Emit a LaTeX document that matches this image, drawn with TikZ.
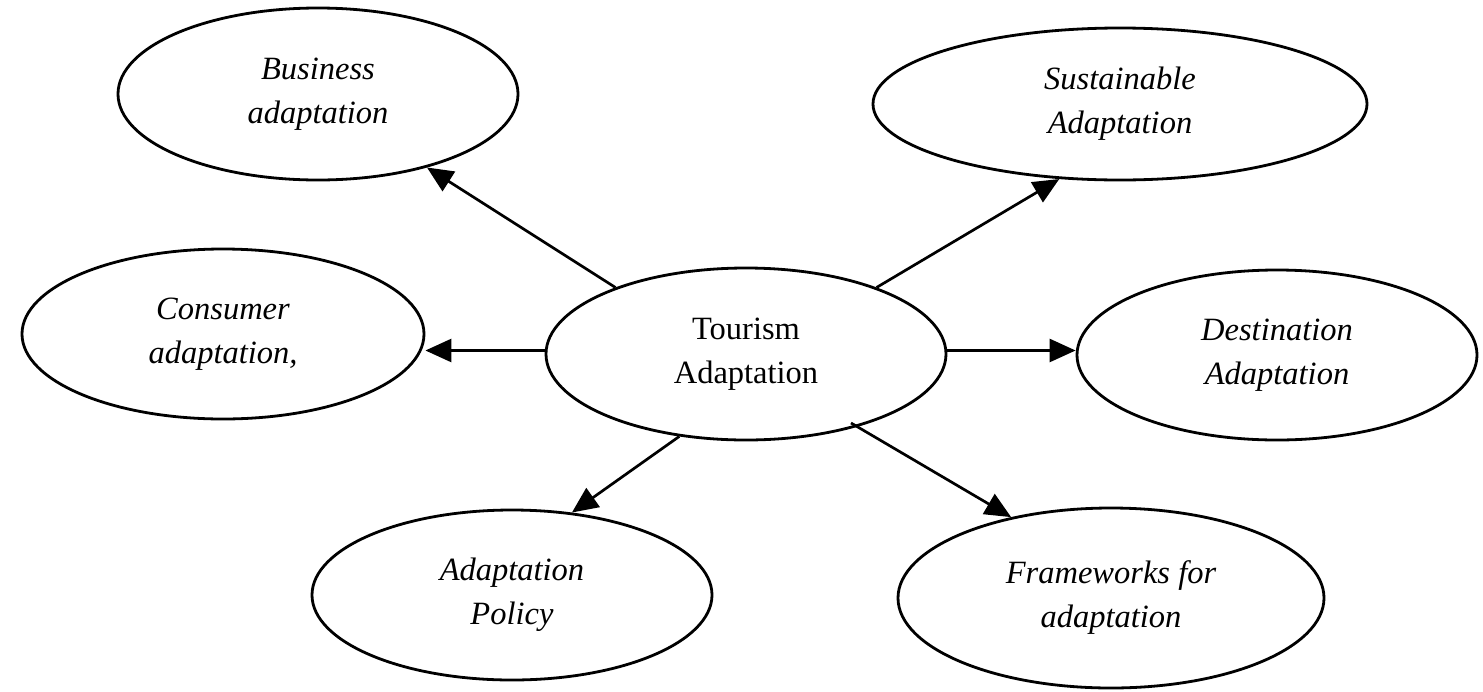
\documentclass[tikz,border=0pt]{standalone}
\usepackage{fontspec}
\setmainfont{Liberation Serif}
\usetikzlibrary{arrows.meta,shapes.geometric,calc}
\tikzset{
  bubble/.style={ellipse, draw=black, line width=2.8pt, inner sep=0pt, align=center,
    font=\fontsize{32.5pt}{44pt}\selectfont},
  ibubble/.style={bubble, font=\fontsize{32.5pt}{44pt}\selectfont\itshape},
  arr/.style={line width=2.7pt, -{Triangle[length=26pt,width=23pt]}}
}
\begin{document}
\begin{tikzpicture}[x=1pt,y=-1pt]
\useasboundingbox[fill=white] (0,0) rectangle (1483,691);
\node[ibubble, minimum width=400pt, minimum height=172pt] (B) at (318,94) {Business\\adaptation};
\node[ibubble, minimum width=494pt, minimum height=152pt] (S) at (1120,104) {Sustainable\\Adaptation};
\node[ibubble, minimum width=402pt, minimum height=170pt] (C) at (223,334) {Consumer\\adaptation,};
\node[bubble, minimum width=400pt, minimum height=172pt] (T) at (746,354) {Tourism\\Adaptation};
\node[ibubble, minimum width=400pt, minimum height=170pt] (D) at (1277,355) {Destination\\Adaptation};
\node[ibubble, minimum width=400pt, minimum height=170pt] (P) at (512,595) {Adaptation\\Policy};
\node[ibubble, minimum width=426pt, minimum height=180pt] (F) at (1111,598) {Frameworks for\\adaptation};
\coordinate (Fs) at ($(T.center)+(105,69)$);
\draw[arr] (T.153) -- (B.326);
\draw[arr] (T.27) -- (S.231);
\draw[arr] (T.179) -- (T.179 -| C.east);
\draw[arr] (T.1) -- (T.1 -| D.west);
\draw[arr] (T.231) -- (P.54);
\draw[arr] (Fs) -- (F.141);
\end{tikzpicture}
\end{document}
